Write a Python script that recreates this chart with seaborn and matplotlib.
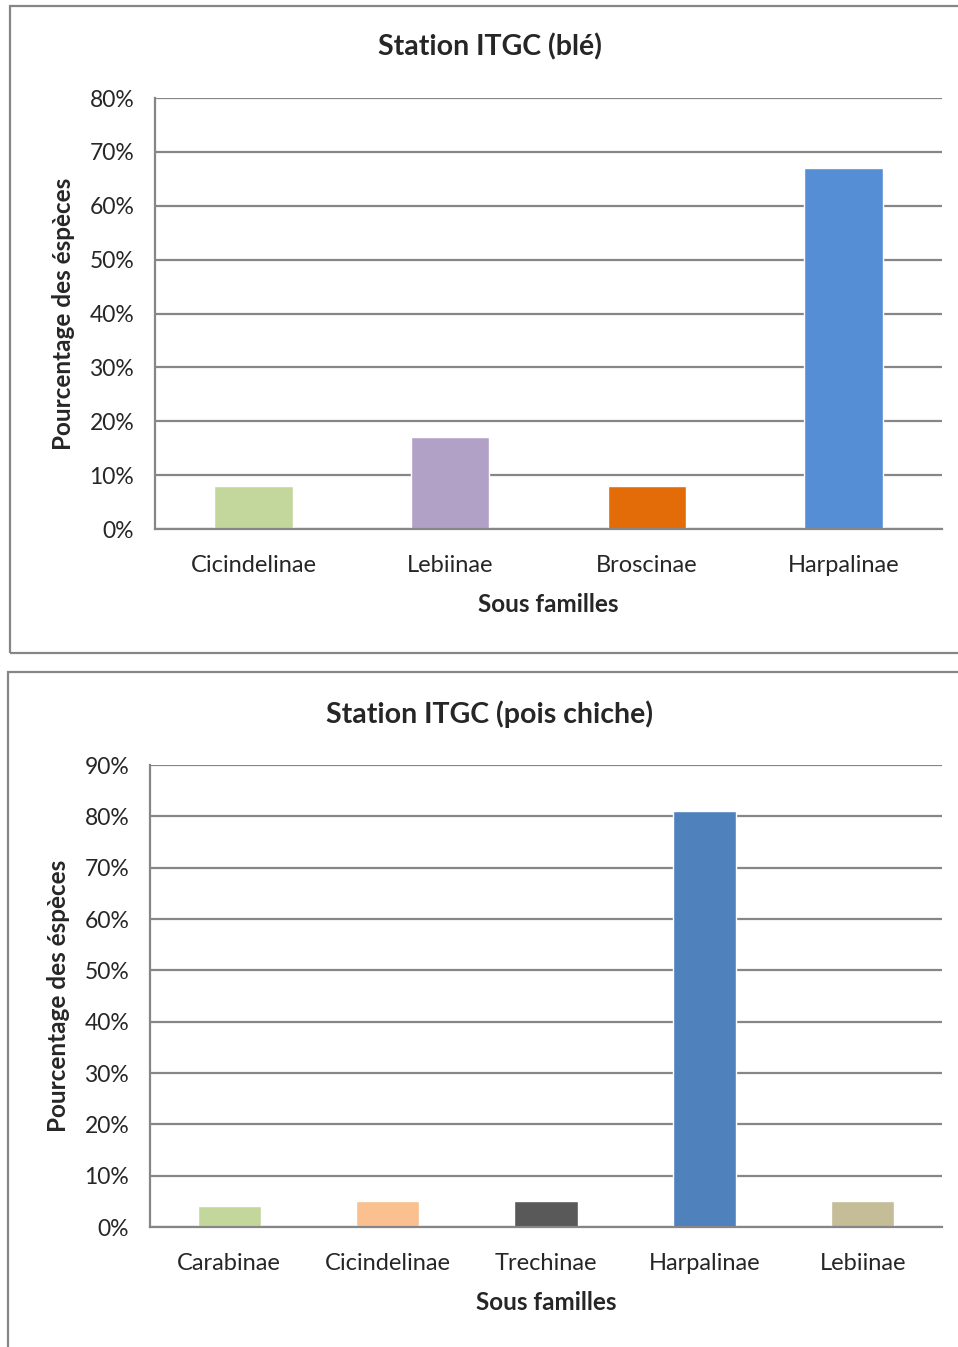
import matplotlib
matplotlib.use("Agg")
import matplotlib.pyplot as plt
import matplotlib.patches as mpatches
from matplotlib.ticker import PercentFormatter, MultipleLocator
import seaborn as sns
import pandas as pd

# ------------------------- DATA -------------------------
cats_ble = ["Cicindelinae", "Lebiinae", "Broscinae", "Harpalinae"]
vals_ble = [8, 17, 8, 67]
cols_ble = ["#C3D69B", "#B2A1C7", "#E36C09", "#558ED5"]

cats_pois = ["Carabinae", "Cicindelinae", "Trechinae", "Harpalinae", "Lebiinae"]
vals_pois = [4, 5, 5, 81, 5]
cols_pois = ["#C3D69B", "#FAC090", "#595959", "#4F81BD", "#C4BD97"]

titles = ["Station ITGC (blé)", "Station ITGC (pois chiche)"]
ymax = [80, 90]

sns.set_style("white")
plt.rcParams["font.family"] = ["Lato", "DejaVu Sans"]

fig = plt.figure(figsize=(9.58, 13.47), dpi=100)
W, H = 958, 1347
grey = "#868686"

# outer chart frames (pixel boxes converted to figure fraction)
for (x0, y0, x1, y1) in [(10, 6, 962, 653), (8, 672, 962, 1352)]:
    fig.patches.append(mpatches.Rectangle((x0 / W, 1 - y1 / H), (x1 - x0) / W, (y1 - y0) / H,
                                          transform=fig.transFigure, fill=False,
                                          edgecolor=grey, linewidth=1.6))

axes_box = [(155, 98, 942, 529), (150, 765, 942, 1227)]
title_y = [47, 714]
data = [(cats_ble, vals_ble, cols_ble), (cats_pois, vals_pois, cols_pois)]

for i, (cats, vals, cols) in enumerate(data):
    x0, y0, x1, y1 = axes_box[i]
    ax = fig.add_axes([x0 / W, 1 - y1 / H, (x1 - x0) / W, (y1 - y0) / H])
    df = pd.DataFrame({"cat": cats, "val": vals})
    sns.barplot(data=df, x="cat", y="val", hue="cat", palette=cols, width=0.4,
                legend=False, ax=ax, saturation=1)
    ax.set_ylim(0, ymax[i])
    ax.yaxis.set_major_locator(MultipleLocator(10))
    ax.yaxis.set_major_formatter(PercentFormatter(xmax=100, decimals=0))
    ax.grid(axis="y", color=grey, linewidth=1.6)
    ax.set_axisbelow(True)
    for s in ["top", "right"]:
        ax.spines[s].set_visible(False)
    for s in ["left", "bottom"]:
        ax.spines[s].set_color(grey)
        ax.spines[s].set_linewidth(1.6)
    ax.tick_params(axis="y", length=6, width=1.6, color=grey, labelsize=16.5, pad=9)
    ax.tick_params(axis="x", length=0, labelsize=17, pad=19)
    ax.set_xlabel("Sous familles", fontsize=17.5, fontweight="bold", labelpad=12)
    ax.set_ylabel("Pourcentage des éspèces", fontsize=17.5, fontweight="bold", labelpad=10)
    fig.text(490 / W, 1 - title_y[i] / H, titles[i], ha="center", va="center",
             fontsize=20.5, fontweight="bold")

plt.savefig("out.png", dpi=100)
